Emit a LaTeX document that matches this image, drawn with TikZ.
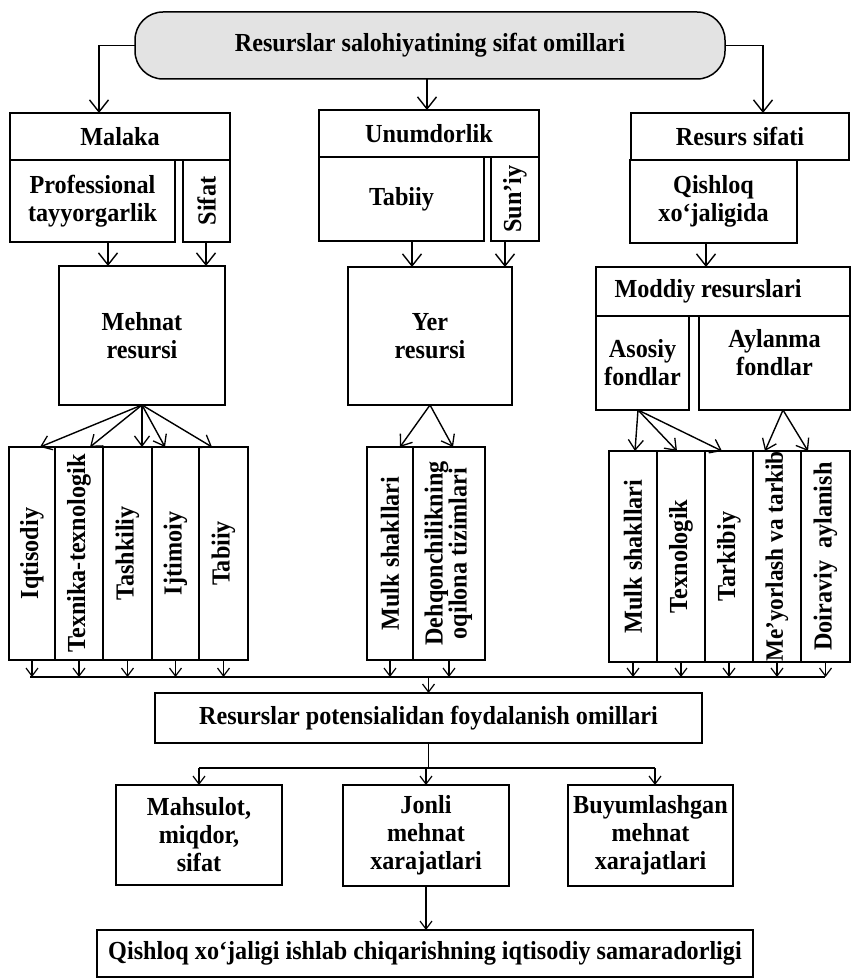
\documentclass[tikz,border=0pt]{standalone}
\usepackage{fontspec}
\usepackage{graphicx}
\setmainfont{Liberation Serif}[FakeStretch=0.93]
\usetikzlibrary{arrows.meta}
\tikzset{
  bx/.style={draw, line width=1.5pt, inner sep=0pt, outer sep=0pt, align=center,
    font=\bfseries\fontsize{26}{28}\selectfont},
  ln/.style={line width=1.4pt},
  arrL/.style={ln, -{Straight Barb[length=12pt,width=19pt,line width=1.4pt]}},
  arrM/.style={ln, -{Straight Barb[length=10pt,width=15pt,line width=1.3pt]}},
  arrS/.style={ln, -{Straight Barb[length=8pt,width=12pt,line width=1.2pt]}},
}
\newcommand\bxn[7]{\node[bx,#1,minimum width={(#5)-(#3)},minimum height={(#6)-(#4)}] (#2) at ({((#3)+(#5))/2},{((#4)+(#6))/2}) {#7};}
\newcommand\rtext[1]{\rotatebox{90}{#1}}
\begin{document}
\begin{tikzpicture}[x=1pt,y=-1pt]
\useasboundingbox (0,0) rectangle (851,979);
% top
\bxn{fill=gray!22, rounded corners=28pt}{top}{135}{12}{725}{79}{Resurslar salohiyatining sifat omillari}
% left column
\bxn{}{ml}{10}{113}{230}{160}{Malaka}
\bxn{}{pt}{10}{160}{175}{242}{Professional\\tayyorgarlik}
\bxn{}{sf}{183}{160}{230}{242}{\rtext{Sifat}}
\bxn{}{meh}{59}{266}{225}{405}{Mehnat\\resursi}
% middle column
\bxn{}{un}{319}{110}{539}{157}{Unumdorlik}
\bxn{}{tb}{319}{157}{484}{241}{Tabiiy}
\bxn{}{sn}{491}{157}{539}{241}{\rtext{Sun’iy}}
\bxn{}{yer}{348}{267}{512}{405}{Yer\\resursi}
% right column
\bxn{}{rs}{631}{113}{849}{160}{Resurs sifati}
\bxn{}{qx}{630}{160}{797}{243}{Qishloq\\xo‘jaligida}
\bxn{}{md}{596}{267}{850}{316}{\hspace*{-30pt}Moddiy resurslari}
\bxn{}{as}{596}{316}{689}{410}{Asosiy\\fondlar}
\bxn{}{ay}{699}{316}{850}{410}{Aylanma\\fondlar\\[-6pt]}
% vertical boxes, left group
\bxn{}{iq}{9}{447}{55}{660}{\rtext{Iqtisodiy}}
\bxn{}{tt}{55}{447}{103}{660}{\rtext{Texnika-texnologik}}
\bxn{}{ts}{103}{447}{152}{660}{\rtext{Tashkiliy}}
\bxn{}{ij}{152}{447}{199}{660}{\rtext{Ijtimoiy}}
\bxn{}{tz}{199}{447}{248}{660}{\rtext{Tabiiy}}
% middle group
\bxn{}{mk}{367}{447}{413}{660}{\rtext{Mulk shakllari}}
\bxn{}{dq}{413}{447}{485}{660}{\rtext{\begin{tabular}{@{}c@{}}Dehqonchilikning\\[-4pt]oqilona tizimlari\end{tabular}}}
% right group
\bxn{}{ra}{609}{451}{657}{662}{\rtext{Mulk shakllari}}
\bxn{}{rb}{657}{451}{705}{662}{\rtext{Texnologik}}
\bxn{}{rc}{705}{451}{753}{662}{\rtext{Tarkibiy}}
\bxn{}{rd}{753}{451}{801}{662}{\rtext{\fontsize{25}{28}\selectfont Me’yorlash va tarkib}}
\bxn{}{re}{801}{451}{850}{662}{\rtext{Doiraviy\ \ aylanish}}
% lower part
\bxn{}{rp}{155}{693}{702}{743}{Resurslar potensialidan foydalanish omillari}
\bxn{}{mh}{116}{785}{282}{885}{Mahsulot,\\miqdor,\\sifat}
\bxn{}{jn}{343}{785}{509}{886}{Jonli\\mehnat\\xarajatlari}
\bxn{}{bu}{568}{785}{733}{886}{Buyumlashgan\\mehnat\\xarajatlari}
\bxn{}{qs}{97}{930}{753}{977}{Qishloq xo‘jaligi ishlab chiqarishning iqtisodiy samaradorligi}

% top connectors
\draw[arrL] (top.west) -| (ml.north -| 99,0);
\draw[arrL] (top.south -| 427,0) -- (un.north -| 427,0);
\draw[arrL] (top.east) -| (rs.north -| 763,0);
% to Mehnat / Yer / Moddiy
\draw[arrL] (pt.south -| 108,0) -- (meh.north -| 108,0);
\draw[arrL] (sf.south -| 206,0) -- (meh.north -| 206,0);
\draw[arrL] (tb.south -| 412,0) -- (yer.north -| 412,0);
\draw[arrL] (sn.south -| 505,0) -- (yer.north -| 505,0);
\draw[arrL] (qx.south -| 706,0) -- (md.north -| 706,0);
% fans
\draw[arrM] (meh.south) -- (iq.north -| 40,0);
\draw[arrM] (meh.south) -- (tt.north -| 90,0);
\draw[arrM] (meh.south) -- (ts.north -| 142,0);
\draw[arrM] (meh.south) -- (ij.north -| 165,0);
\draw[arrM] (meh.south) -- (tz.north -| 212,0);
\draw[arrM] (yer.south) -- (mk.north -| 400,0);
\draw[arrM] (yer.south) -- (dq.north -| 453,0);
\draw[arrM] (as.south -| 638,0) -- (ra.north -| 635,0);
\draw[arrM] (as.south -| 638,0) -- (rb.north -| 677,0);
\draw[arrM] (as.south -| 638,0) -- (rc.north -| 722,0);
\draw[arrM] (ay.south -| 783,0) -- (rd.north -| 765,0);
\draw[arrM] (ay.south -| 783,0) -- (re.north -| 808,0);
% bus
\coordinate (busL) at (30,677);
\coordinate (busR) at (825,677);
\draw[ln] (busL) -- (busR);
\foreach \n in {iq,tt,ts,ij,tz,mk,dq,ra,rb,rc,rd,re}{
  \draw[arrS] (\n.south) -- (\n.south |- busL);
}
\draw[arrS] (rp.north |- busL) -- (rp.north);
% lower distribution
\coordinate (dv) at (rp.south |- 0,768);
\coordinate (dvR) at (655,768);
\draw[ln] (rp.south) -- (dv);
\draw[ln] (mh.north |- dv) -- (dvR);
\draw[arrS] (mh.north |- dv) -- (mh.north);
\draw[arrS] (jn.north |- dv) -- (jn.north);
\draw[arrS] (dvR) -- (bu.north -| dvR);
\draw[arrS] (jn.south) -- (jn.south |- qs.north);
\end{tikzpicture}
\end{document}
